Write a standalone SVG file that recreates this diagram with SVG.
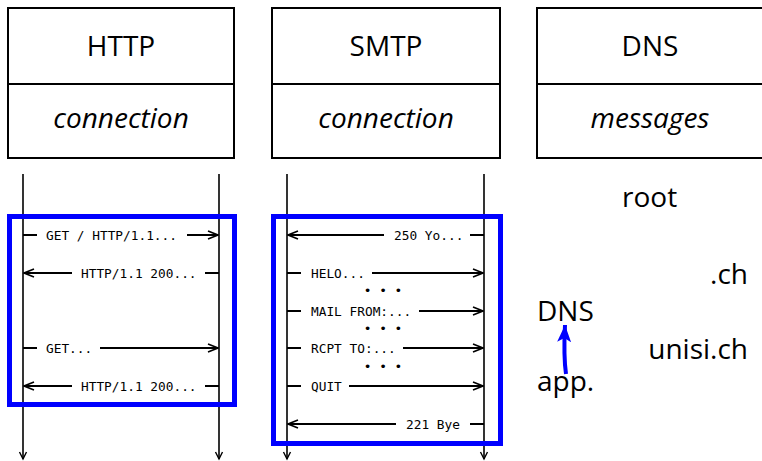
<svg xmlns="http://www.w3.org/2000/svg" width="762" height="461" viewBox="0 0 762 461">
<style>
.box{fill:#fff;stroke:#000;stroke-width:2}
.h{font-family:"Open Sans","Noto Sans",sans-serif;font-size:28px;fill:#000;text-anchor:middle}
.i{font-style:italic}
.d{font-family:"Open Sans","Noto Sans",sans-serif;font-size:28px;fill:#000}
.life{stroke:#000;stroke-width:1.6;fill:none}
.msg{stroke:#000;stroke-width:2;fill:none}
.m{font-family:"DejaVu Sans Mono",monospace;font-size:12.8px;fill:#000}
.bg{fill:#fff}
.frame{fill:none;stroke:#0000ff;stroke-width:5}
</style>
<defs>
<marker id="ah" markerWidth="12" markerHeight="10" refX="11" refY="5" orient="auto" markerUnits="userSpaceOnUse">
<path d="M1,1 L11,5 L1,9" fill="none" stroke="#000" stroke-width="1.6"/>
</marker>
<marker id="lh" markerWidth="10" markerHeight="10" refX="8" refY="5" orient="auto" markerUnits="userSpaceOnUse">
<path d="M1,1.5 L8,5 L1,8.5" fill="none" stroke="#000" stroke-width="1.4"/>
</marker>
<marker id="bh" markerWidth="20" markerHeight="16" refX="17" refY="8" orient="auto" markerUnits="userSpaceOnUse">
<path d="M0,1 L17,8 L0,15 L4,8 Z" fill="#0000ff"/>
</marker>
</defs>

<g id="http-header">
<rect class="box" x="8" y="8" width="226" height="150"/>
<line x1="8" y1="84" x2="234" y2="84" stroke="#000" stroke-width="2"/>
<text class="h" x="121" y="56">HTTP</text>
<text class="h i" x="121" y="128">connection</text>
</g>
<g id="smtp-header">
<rect class="box" x="272" y="8" width="228" height="150"/>
<line x1="272" y1="84" x2="500" y2="84" stroke="#000" stroke-width="2"/>
<text class="h" x="386" y="56">SMTP</text>
<text class="h i" x="386" y="128">connection</text>
</g>
<g id="dns-header">
<rect class="box" x="537" y="8" width="228" height="150"/>
<line x1="537" y1="84" x2="765" y2="84" stroke="#000" stroke-width="2"/>
<text class="h" x="650" y="56">DNS</text>
<text class="h i" x="650" y="128">messages</text>
</g>

<g id="connectors">
<line class="life" x1="23" y1="174" x2="23" y2="459" marker-end="url(#lh)"/>
<line class="life" x1="219" y1="174" x2="219" y2="459" marker-end="url(#lh)"/>
<line class="life" x1="287" y1="174" x2="287" y2="459" marker-end="url(#lh)"/>
<line class="life" x1="484" y1="174" x2="484" y2="459" marker-end="url(#lh)"/>

<line class="msg" x1="23" y1="235" x2="218" y2="235" marker-end="url(#ah)"/>
<line class="msg" x1="219" y1="273" x2="24" y2="273" marker-end="url(#ah)"/>
<line class="msg" x1="23" y1="348" x2="218" y2="348" marker-end="url(#ah)"/>
<line class="msg" x1="219" y1="386" x2="24" y2="386" marker-end="url(#ah)"/>

<line class="msg" x1="484" y1="235" x2="288" y2="235" marker-end="url(#ah)"/>
<line class="msg" x1="287" y1="273" x2="483" y2="273" marker-end="url(#ah)"/>
<line class="msg" x1="287" y1="311" x2="483" y2="311" marker-end="url(#ah)"/>
<line class="msg" x1="287" y1="348" x2="483" y2="348" marker-end="url(#ah)"/>
<line class="msg" x1="287" y1="386" x2="483" y2="386" marker-end="url(#ah)"/>
<line class="msg" x1="484" y1="424" x2="288" y2="424" marker-end="url(#ah)"/>

<path d="M566,374 C564,360 564,345 565,325" fill="none" stroke="#0000ff" stroke-width="4" marker-end="url(#bh)"/>
</g>

<g id="http-messages">
<rect class="bg" x="37" y="227" width="150" height="16"/>
<text class="m" x="46" y="239.5">GET / HTTP/1.1...</text>
<rect class="bg" x="72" y="265" width="133" height="16"/>
<text class="m" x="81" y="277.5">HTTP/1.1 200...</text>
<rect class="bg" x="37" y="340" width="63" height="16"/>
<text class="m" x="46" y="352.5">GET...</text>
<rect class="bg" x="72" y="378" width="133" height="16"/>
<text class="m" x="81" y="390.5">HTTP/1.1 200...</text>
</g>

<g id="smtp-messages">
<rect class="bg" x="384" y="227" width="86" height="16"/>
<text class="m" x="394" y="239.5">250 Yo...</text>
<rect class="bg" x="301" y="265" width="71" height="16"/>
<text class="m" x="311" y="277.5">HELO...</text>
<text class="m" x="383" y="295" text-anchor="middle" font-size="11">• • •</text>
<rect class="bg" x="301" y="303" width="118" height="16"/>
<text class="m" x="311" y="315.5">MAIL FROM:...</text>
<text class="m" x="383" y="333" text-anchor="middle" font-size="11">• • •</text>
<rect class="bg" x="301" y="340" width="102" height="16"/>
<text class="m" x="311" y="352.5">RCPT TO:...</text>
<text class="m" x="383" y="371" text-anchor="middle" font-size="11">• • •</text>
<rect class="bg" x="301" y="378" width="48" height="16"/>
<text class="m" x="311" y="390.5">QUIT</text>
<rect class="bg" x="396" y="416" width="74" height="16"/>
<text class="m" x="406" y="428.5">221 Bye</text>
</g>

<g id="http-frame"><rect class="frame" x="9.5" y="216.5" width="225" height="188"/></g>
<g id="smtp-frame"><rect class="frame" x="273.5" y="216.5" width="227" height="227"/></g>

<g id="dns-root"><text class="d" x="622" y="207">root</text></g>
<g id="dns-ch"><text class="d" x="748" y="284" text-anchor="end">.ch</text></g>
<g id="dns-unisi"><text class="d" x="748" y="359" text-anchor="end">unisi.ch</text></g>
<g id="dns-dns"><text class="d" x="537" y="321">DNS</text></g>
<g id="dns-app"><text class="d" x="537" y="391">app.</text></g>
</svg>
